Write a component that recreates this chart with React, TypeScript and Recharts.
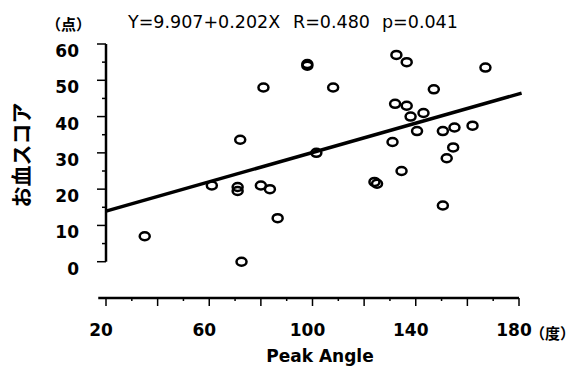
import { ReferenceLine, Scatter, ScatterChart, XAxis, YAxis } from 'recharts';

// Peak Angle (度) と お血スコア (点)
const peakAngle = [
  35, 61, 71, 71, 72, 72.5, 80, 83.5, 86.5, 81, 98, 98, 108, 101.5, 124, 125, 131,
  132, 136.5, 132.5, 136.5, 138, 143, 140.5, 134.5, 147, 150.5, 155, 162, 154.5, 152, 150.5, 167,
];
const oketsuScore = [
  7, 21, 20.6, 19.5, 33.6, 0, 21, 20, 12, 48, 54.5, 54, 48, 30, 22, 21.5, 33,
  43.5, 43, 57, 55, 40, 41, 36, 25, 47.5, 36, 37, 37.5, 31.5, 28.5, 15.5, 53.5,
];

const xTicks = [20, 30, 40, 50, 60, 70, 80, 90, 100, 110, 120, 130, 140, 150, 160, 170, 180];
const xLabelTicks = [20, 60, 100, 140, 180];
const yTicks = [0, 5, 10, 15, 20, 25, 30, 35, 40, 45, 50, 55, 60];

const intercept = 9.907;
const slope = 0.202;
const fitRange = [20, 181];

const titleParts = ['Y=9.907+0.202X', 'R=0.480', 'p=0.041'];

const points = peakAngle.map((x, i) => ({ x, y: oketsuScore[i] }));
const fitLine = fitRange.map((x) => ({ x, y: intercept + slope * x }));

const ink = '#000';
const labelFont = '"DejaVu Sans", sans-serif';
const cjkFont = '"Noto Sans CJK JP", sans-serif';

function XTick({ x, y, payload }: any) {
  const v = payload.value;
  const major = v % 20 === 0;
  return (
    <g>
      <line x1={x} x2={x} y1={y} y2={y + (major ? 8 : 3)} stroke={ink} strokeWidth={1.5} />
      {xLabelTicks.includes(v) && (
        <text x={x - 5} y={y + 38} textAnchor="middle" fontFamily={labelFont} fontWeight="bold" fontSize={17} fill={ink}>
          {v}
        </text>
      )}
    </g>
  );
}

function YTick({ x, y, payload }: any) {
  const v = payload.value;
  const major = v % 10 === 0;
  return (
    <g>
      <line x1={x - (major ? 9 : 4)} x2={x} y1={y} y2={y} stroke={ink} strokeWidth={1.5} />
      {major && (
        <text x={x - 27} y={y + 13} textAnchor="end" fontFamily={labelFont} fontWeight="bold" fontSize={17} fill={ink}>
          {v}
        </text>
      )}
    </g>
  );
}

function OpenDot({ cx, cy }: any) {
  return <ellipse cx={cx} cy={cy} rx={5} ry={4} fill="none" stroke={ink} strokeWidth={2.5} />;
}

export default function App() {
  return (
    <div style={{ position: 'absolute', left: 0, top: 0, width: 577, height: 366, background: '#fff' }}>
      <ScatterChart width={577} height={366} margin={{ top: 44, right: 58, bottom: 0, left: 0 }}>
        <XAxis
          type="number"
          dataKey="x"
          domain={[20, 180]}
          ticks={xTicks}
          interval={0}
          height={68}
          axisLine={false}
          tickLine={false}
          tickSize={0}
          tickMargin={0}
          tick={<XTick />}
        />
        <YAxis
          type="number"
          dataKey="y"
          domain={[-10, 60]}
          ticks={yTicks}
          interval={0}
          width={106}
          axisLine={false}
          tickLine={false}
          tickSize={0}
          tickMargin={0}
          tick={<YTick />}
        />
        <ReferenceLine segment={[{ x: 17, y: -10 }, { x: 180, y: -10 }]} stroke={ink} strokeWidth={2.5} ifOverflow="visible" />
        <ReferenceLine segment={[{ x: 20, y: 0 }, { x: 20, y: 60 }]} stroke={ink} strokeWidth={2.5} ifOverflow="visible" />
        <ReferenceLine segment={fitLine} stroke={ink} strokeWidth={3.5} ifOverflow="visible" />
        <Scatter data={points} shape={<OpenDot />} isAnimationActive={false} />
      </ScatterChart>
      <svg width={577} height={366} style={{ position: 'absolute', left: 0, top: 0, pointerEvents: 'none' }}>
        <text x={46} y={30} fontFamily={cjkFont} fontWeight="bold" fontSize={15} fill={ink}>（点）</text>
        <text x={128} y={28} fontFamily={labelFont} fontSize={17.5} fill={ink}>{titleParts[0]}</text>
        <text x={293} y={28} fontFamily={labelFont} fontSize={17.5} fill={ink}>{titleParts[1]}</text>
        <text x={382} y={28} fontFamily={labelFont} fontSize={17.5} fill={ink}>{titleParts[2]}</text>
        <text x={530} y={339} fontFamily={cjkFont} fontWeight="bold" fontSize={15} fill={ink}>（度）</text>
        <text x={320} y={362} textAnchor="middle" fontFamily={labelFont} fontWeight="bold" fontSize={17} fill={ink}>Peak Angle</text>
        <text
          x={29}
          y={155}
          textAnchor="middle"
          transform="rotate(-90 29 155)"
          fontFamily={cjkFont}
          fontWeight="bold"
          fontSize={21}
          fill={ink}
        >
          お血スコア
        </text>
      </svg>
    </div>
  );
}
